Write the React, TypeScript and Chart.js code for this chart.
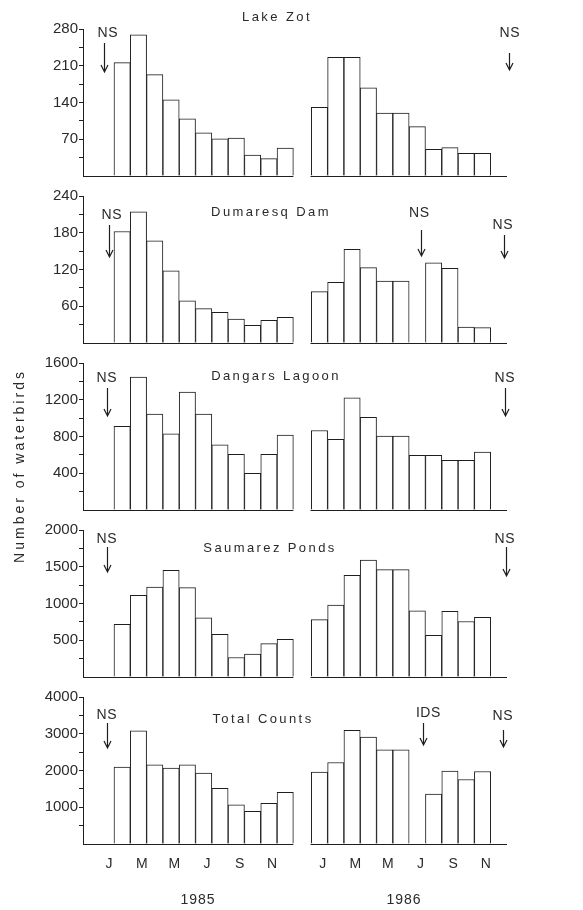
import React, { useEffect, useRef } from 'react';
import { Chart, registerables } from 'chart.js';

Chart.register(...registerables);

// ---------------- data ----------------
const MONTHS = ['J', 'F', 'M', 'A', 'M', 'J', 'J', 'A', 'S', 'O', 'N', 'D'];
const AXIS_MONTHS = [0, 2, 4, 6, 8, 10];
const YEARS = ['1985', '1986'];

const PANEL_TITLES = ['Lake Zot', 'Dumaresq Dam', 'Dangars Lagoon', 'Saumarez Ponds', 'Total Counts'];
const Y_MAX = [280, 240, 1600, 2000, 4000];
const Y_STEP = [70, 60, 400, 500, 1000];
const Y_TITLE = 'Number of waterbirds';

const lakeZot1985 = [null, 216, 269, 193, 145, 109, 82, 71, 72, 40, 33, 53];
const lakeZot1986 = [131, 226, 226, 168, 120, 120, 94, 51, 54, 43, 43, null];
const dumaresq1985 = [null, 182, 214, 167, 118, 69, 56, 50, 39, 29, 37, 42];
const dumaresq1986 = [84, 99, 153, 123, 101, 101, null, 131, 122, 26, 25, null];
const dangars1985 = [null, 910, 1447, 1045, 830, 1284, 1045, 710, 605, 400, 605, 815];
const dangars1986 = [865, 770, 1221, 1010, 805, 805, 595, 595, 541, 541, 630, null];
const saumarez1985 = [null, 715, 1110, 1225, 1450, 1216, 805, 581, 265, 312, 455, 513];
const saumarez1986 = [780, 980, 1382, 1590, 1460, 1460, 900, 567, 894, 755, 813, null];
const total1985 = [null, 2091, 3080, 2155, 2064, 2155, 1927, 1518, 1064, 891, 1109, 1409];
const total1986 = [1955, 2218, 3091, 2909, 2564, 2564, null, 1355, 1982, 1755, 1973, null];

const SERIES = [
  [lakeZot1985, lakeZot1986],
  [dumaresq1985, dumaresq1986],
  [dangars1985, dangars1986],
  [saumarez1985, saumarez1986],
  [total1985, total1986],
];

// not-sampled notes: [text, yearIndex, monthIndex]
const NOTES = [
  [['NS', 0, 0], ['NS', 1, 11]],
  [['NS', 0, 0], ['NS', 1, 6], ['NS', 1, 11]],
  [['NS', 0, 0], ['NS', 1, 11]],
  [['NS', 0, 0], ['NS', 1, 11]],
  [['NS', 0, 0], ['IDS', 1, 6], ['NS', 1, 11]],
];

// ---------------- layout ----------------
const PAGE_W = 583;
const PAGE_H = 910;
const AXIS_W = 83;
const AREA_RIGHT = 507;
const PANEL_TOP0 = 29;
const PANEL_PITCH = 167;
const PANEL_H = 147;
const X_MIN = -1.4;
const X_MAX = 24.6;
const YEAR2_OFFSET = 13.1;
const YEAR_SPANS = [[X_MIN, 11.5], [12.55, X_MAX]];
const XAXIS_H = 40;

// title placement: [centre x, y offset from panel top]
const TITLE_POS = [[277, -12], [271, 16], [276, 13], [270, 18], [263, 22]];
// note placement: [text dx, text dy, arrow dx, arrow top dy, arrow bottom dy]
const NOTE_POS = [
  [[2, 4, -2, 14, 43], [11, 4, 10, 24, 41]],
  [[6, 19, 3, 29, 61], [2, 17, 4, 34, 60], [4, 29, 5, 39, 62]],
  [[1, 15, 1, 25, 53], [6, 15, 6, 25, 53]],
  [[1, 9, 1, 17, 42], [6, 9, 7, 17, 46]],
  [[1, 18, 1, 26, 51], [11, 16, 6, 26, 48], [4, 19, 4, 33, 50]],
];
const YEAR_LABEL_POS = [[198, 900], [404, 900]];
const Y_TITLE_POS = [20, 466];

const INK = '#1e1e1e';
const TEXT = '#2a2a2a';
const FONT_FAMILY = '"Liberation Sans", Arial, Helvetica, sans-serif';

const monthX = (year: number, m: number) => (year === 0 ? m : YEAR2_OFFSET + m);

function decorPlugin(k: number) {
  return {
    id: 'decor' + k,
    afterDatasetsDraw(chart: any) {
      const { ctx, chartArea } = chart;
      const xs = chart.scales.x;
      ctx.save();
      ctx.strokeStyle = INK;
      ctx.lineWidth = 1;
      // baselines for each year
      const yb = Math.round(chartArea.bottom) + 0.5;
      for (const [a, b] of YEAR_SPANS) {
        ctx.beginPath();
        ctx.moveTo(Math.max(chartArea.left, xs.getPixelForValue(a)), yb);
        ctx.lineTo(xs.getPixelForValue(b), yb);
        ctx.stroke();
      }
      // panel title
      ctx.fillStyle = TEXT;
      ctx.textAlign = 'center';
      ctx.textBaseline = 'middle';
      ctx.font = `13px ${FONT_FAMILY}`;
      (ctx as any).letterSpacing = '2.4px';
      ctx.fillText(PANEL_TITLES[k], TITLE_POS[k][0], chartArea.top + TITLE_POS[k][1]);
      // notes with arrows
      ctx.font = `14px ${FONT_FAMILY}`;
      (ctx as any).letterSpacing = '0.5px';
      NOTES[k].forEach((n: any, i: number) => {
        const [text, yr, m] = n;
        const [tdx, tdy, adx, a0, a1] = NOTE_POS[k][i];
        const cx = xs.getPixelForValue(monthX(yr, m));
        ctx.fillText(text, cx + tdx, chartArea.top + tdy);
        const ax = Math.round(cx + adx) + 0.5;
        const y0 = chartArea.top + a0;
        const y1 = chartArea.top + a1;
        ctx.lineWidth = 1.2;
        ctx.beginPath();
        ctx.moveTo(ax, y0);
        ctx.lineTo(ax, y1);
        ctx.moveTo(ax - 3.5, y1 - 7);
        ctx.lineTo(ax, y1);
        ctx.lineTo(ax + 3.5, y1 - 7);
        ctx.stroke();
      });
      if (k === SERIES.length - 1) {
        ctx.font = `14px ${FONT_FAMILY}`;
        (ctx as any).letterSpacing = '1px';
        YEARS.forEach((y, i) => ctx.fillText(y, YEAR_LABEL_POS[i][0], YEAR_LABEL_POS[i][1]));
        ctx.translate(Y_TITLE_POS[0], Y_TITLE_POS[1]);
        ctx.rotate(-Math.PI / 2);
        (ctx as any).letterSpacing = '3px';
        ctx.fillText(Y_TITLE, 0, 0);
      }
      ctx.restore();
    },
  };
}

function buildChart(canvas: HTMLCanvasElement, k: number) {
  const last = k === SERIES.length - 1;
  const [a, b] = SERIES[k];
  const data: any[] = [];
  a.forEach((v, i) => data.push({ x: monthX(0, i), y: v }));
  b.forEach((v, i) => data.push({ x: monthX(1, i), y: v }));
  const top = PANEL_TOP0 + PANEL_PITCH * k;
  const bottom = top + PANEL_H;
  const step = Y_STEP[k];
  const tickPositions: number[] = [];
  [0, 1].forEach((yr) => AXIS_MONTHS.forEach((m) => tickPositions.push(monthX(yr, m) + 0.2)));
  const tickLabels: string[] = [];
  [0, 1].forEach(() => AXIS_MONTHS.forEach((m) => tickLabels.push(MONTHS[m])));

  return new Chart(canvas, {
    type: 'bar',
    data: {
      datasets: [
        {
          data,
          backgroundColor: '#ffffff',
          borderColor: INK,
          borderWidth: 1,
          barPercentage: 1,
          categoryPercentage: 1,
        },
      ],
    },
    options: {
      responsive: false,
      animation: false,
      events: [],
      layout: {
        padding: {
          left: 0,
          right: PAGE_W - AREA_RIGHT,
          top,
          bottom: last ? PAGE_H - bottom - XAXIS_H : PAGE_H - bottom,
        },
      },
      plugins: { legend: { display: false }, tooltip: { enabled: false }, title: { display: false } },
      scales: {
        x: {
          type: 'linear',
          offset: false,
          min: X_MIN,
          max: X_MAX,
          display: last,
          afterBuildTicks: (s: any) => {
            s.ticks = tickPositions.map((v) => ({ value: v }));
          },
          afterFit: (s: any) => {
            s.height = last ? XAXIS_H : 0;
          },
          grid: { display: false, drawTicks: false, offset: false },
          border: { display: false },
          ticks: {
            autoSkip: false,
            maxRotation: 0,
            padding: 12,
            color: TEXT,
            font: { family: FONT_FAMILY, size: 14 },
            callback: (_v: any, i: number) => tickLabels[i],
          },
        },
        y: {
          min: 0,
          max: Y_MAX[k],
          afterFit: (s: any) => {
            s.width = AXIS_W;
          },
          afterBuildTicks: (s: any) => {
            const t: any[] = [];
            for (let v = 0; v <= Y_MAX[k] + 1e-9; v += step / 2) t.push({ value: v });
            s.ticks = t;
          },
          border: { display: true, color: INK, width: 1 },
          grid: {
            drawOnChartArea: false,
            drawTicks: true,
            tickLength: 4,
            color: (c: any) => (c.tick && c.tick.value === 0 ? 'rgba(0,0,0,0)' : INK),
          },
          ticks: {
            autoSkip: false,
            padding: 1,
            color: TEXT,
            font: { family: FONT_FAMILY, size: 15 },
            callback: (v: any) => (v !== 0 && v % step === 0 ? String(v) : ''),
          },
        },
      },
    },
    plugins: [decorPlugin(k)],
  } as any);
}

export default function App() {
  const refs = useRef<(HTMLCanvasElement | null)[]>([]);
  useEffect(() => {
    const charts = SERIES.map((_, k) => buildChart(refs.current[k] as HTMLCanvasElement, k));
    return () => charts.forEach((c) => c.destroy());
  }, []);
  return (
    <div style={{ position: 'absolute', left: 0, top: 0, width: PAGE_W, height: PAGE_H, background: '#fff' }}>
      {SERIES.map((_, k) => (
        <canvas
          key={k}
          ref={(el) => {
            refs.current[k] = el;
          }}
          width={PAGE_W}
          height={PAGE_H}
          style={{ position: 'absolute', left: 0, top: 0, width: PAGE_W, height: PAGE_H, display: 'block' }}
        />
      ))}
    </div>
  );
}
